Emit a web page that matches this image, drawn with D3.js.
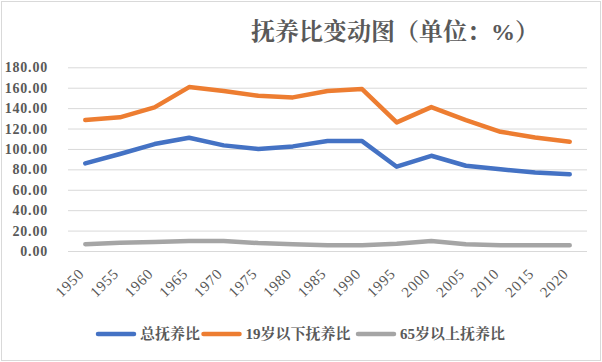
<!DOCTYPE html>
<html>
<head>
<meta charset="utf-8">
<script src="https://cdn.jsdelivr.net/npm/d3@7"></script>
<style>
  body { margin: 0; background: #fff; }
  svg { display: block; }
</style>
</head>
<body>
<div id="chart"></div>
<script>
'use strict';

const years = ['1950', '1955', '1960', '1965', '1970', '1975', '1980', '1985',
               '1990', '1995', '2000', '2005', '2010', '2015', '2020'];
const totalRatio = [85.9, 95.0, 104.8, 111.0, 103.5, 99.9, 102.5, 107.7,
                    107.7, 82.6, 93.3, 83.5, 80.0, 77.0, 75.1];
const youngRatio = [128.3, 131.0, 140.7, 160.6, 156.7, 152.1, 150.5, 156.7,
                    158.7, 126.0, 141.0, 128.3, 116.8, 111.3, 107.0];
const oldRatio = [6.6, 8.0, 8.8, 9.8, 9.8, 7.8, 6.6, 5.6,
                  5.6, 7.2, 9.8, 6.6, 5.6, 5.6, 5.6];
const seriesNames = ['总抚养比', '19岁以下抚养比', '65岁以上抚养比'];
const yTicks = [0, 20, 40, 60, 80, 100, 120, 140, 160, 180];

const width = 602,
      height = 362;
const margin = {'top': 67.3, 'bottom': 111, 'left': 68, 'right': 15};
const colors = ['#4472c4', '#ed7d31', '#a5a5a5'];
const textColor = '#595959';
const cjkFont = 'Liberation Serif, Noto Serif CJK SC, Noto Sans CJK SC';
const numFont = 'Liberation Serif';

const series = [totalRatio, youngRatio, oldRatio];

let svg = d3.select('#chart')
            .append('svg')
            .attr('width', width)
            .attr('height', height);

// outer border like the excel chart area
svg.append('rect')
   .attr('x', 1.5)
   .attr('y', 1.5)
   .attr('width', 599)
   .attr('height', 359)
   .attr('fill', '#fff')
   .attr('stroke', '#d9d9d9')
   .attr('stroke-width', 1);

svg.append('text')
   .attr('x', 395)
   .attr('y', 32)
   .attr('text-anchor', 'middle')
   .attr('dominant-baseline', 'central')
   .attr('font-family', cjkFont)
   .attr('font-weight', 'bold')
   .attr('font-size', 24)
   .attr('fill', textColor)
   .text('抚养比变动图（单位：%）');

const plotW = width - margin.left - margin.right;
const plotBottom = height - margin.bottom;

let x = d3.scaleBand()
          .domain(years)
          .range([margin.left, margin.left + plotW]);
let y = d3.scaleLinear()
          .domain([0, 180])
          .range([plotBottom, margin.top]);

let cx = function(d) {
    return x(d) + x.bandwidth() / 2;
};

// y axis with gridlines
let yAxis = svg.append('g')
               .attr('transform', 'translate(' + margin.left + ',0)')
               .call(d3.axisLeft(y)
                       .tickValues(yTicks)
                       .tickFormat(d3.format('.2f'))
                       .tickSize(-plotW)
                       .tickPadding(20));
yAxis.select('.domain').remove();
yAxis.selectAll('.tick line')
     .attr('stroke', '#d9d9d9')
     .attr('stroke-width', 1);
yAxis.selectAll('.tick text')
     .attr('fill', textColor)
     .attr('font-family', numFont)
     .attr('font-weight', 'bold')
     .attr('font-size', 14)
     .attr('letter-spacing', 0.8);

// x axis labels, rotated
let xAxis = svg.append('g')
               .attr('transform', 'translate(0,' + plotBottom + ')')
               .call(d3.axisBottom(x).tickSize(0).tickFormat(function(d) { return d; }));
xAxis.select('.domain').remove();
xAxis.selectAll('.tick text')
     .attr('fill', textColor)
     .attr('font-family', numFont)
     .attr('font-size', 15)
     .attr('letter-spacing', 0.8)
     .attr('text-anchor', 'end')
     .attr('dy', '0.35em')
     .attr('transform', 'translate(-4,20) rotate(-45)')
     .attr('y', 0)
     .attr('x', 0);

// series lines
let line = d3.line()
             .x(function(d, i) { return cx(years[i]); })
             .y(function(d) { return y(d); });

for (let i = series.length - 1; i >= 0; i--) {
    svg.append('path')
       .datum(series[i])
       .attr('d', line)
       .attr('fill', 'none')
       .attr('stroke', colors[i])
       .attr('stroke-width', 4.5)
       .attr('stroke-linejoin', 'round')
       .attr('stroke-linecap', 'round');
}

// legend
const legendY = 334;
const legendX = [98, 203.5, 358];
for (let i = 0; i < seriesNames.length; i++) {
    let g = svg.append('g')
               .attr('transform', 'translate(' + legendX[i] + ',' + legendY + ')');
    g.append('line')
     .attr('x1', 0)
     .attr('x2', 36)
     .attr('y1', 0)
     .attr('y2', 0)
     .attr('stroke', colors[i])
     .attr('stroke-width', 4.5)
     .attr('stroke-linecap', 'round');
    g.append('text')
     .attr('x', 42)
     .attr('y', 0)
     .attr('dominant-baseline', 'central')
     .attr('font-family', cjkFont)
     .attr('font-weight', 'bold')
     .attr('font-size', 15)
     .attr('fill', textColor)
     .text(seriesNames[i]);
}
</script>
</body>
</html>
